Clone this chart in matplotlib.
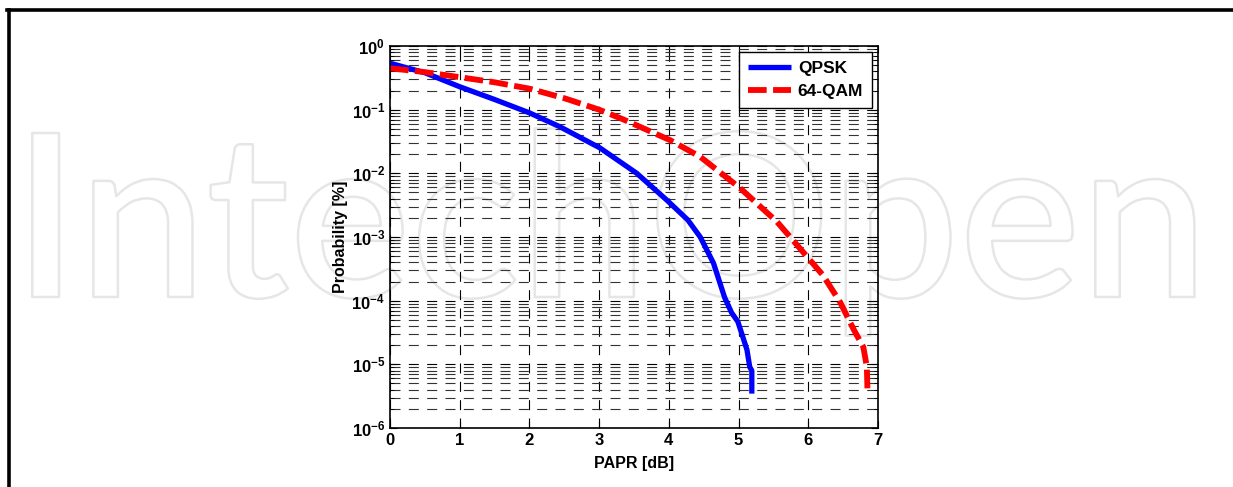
import numpy as np
import matplotlib
matplotlib.use("Agg")
import matplotlib.pyplot as plt
import matplotlib.patheffects as pe
from matplotlib.ticker import LogLocator, NullFormatter

# -----------------------------------
# DATA
# -----------------------------------

qpsk_papr = [0.0, 0.5, 1.0, 1.5, 2.0, 2.44, 3.01, 3.54, 3.97, 4.27, 4.45,
             4.64, 4.80, 4.90, 4.99, 5.12, 5.16, 5.19, 5.19]
qpsk_log = [-0.27, -0.42, -0.64, -0.84, -1.05, -1.27, -1.60, -2.00, -2.42,
            -2.73, -3.00, -3.41, -3.95, -4.19, -4.33, -4.77, -5.04, -5.10, -5.46]

qam_papr = [0.0, 0.5, 1.0, 1.5, 2.0, 2.5, 3.0, 3.34, 4.02, 4.45, 5.02, 5.55,
            5.74, 6.21, 6.46, 6.65, 6.79, 6.84, 6.85]
qam_log = [-0.35, -0.41, -0.49, -0.57, -0.67, -0.82, -1.0, -1.15, -1.48,
           -1.74, -2.23, -2.76, -3.00, -3.60, -4.03, -4.45, -4.73, -5.04, -5.46]

qpsk_prob = 10.0 ** np.array(qpsk_log)
qam_prob = 10.0 ** np.array(qam_log)

x_ticks = [0, 1, 2, 3, 4, 5, 6, 7]

# -----------------------------------
# FIGURE
# -----------------------------------

plt.rcParams["font.family"] = ["Liberation Sans", "DejaVu Sans"]
plt.rcParams["mathtext.fontset"] = "custom"
plt.rcParams["mathtext.rm"] = "Liberation Sans:bold"
plt.rcParams["mathtext.bf"] = "Liberation Sans:bold"
plt.rcParams["mathtext.default"] = "bf"

fig = plt.figure(figsize=(12.33, 4.87), dpi=100)

# watermark (outline only, behind the plot)
fig.text(0.495, 1 - 297 / 487, "IntechOpen", ha="center", va="baseline",
         fontsize=164, color="none", fontweight="semibold",
         family=["Lato", "DejaVu Sans"], zorder=-5,
         path_effects=[pe.Stroke(linewidth=1.8, foreground="#e6e6e6")])

# page border (left and top)
fig.add_artist(plt.Line2D([8.5 / 1233, 8.5 / 1233], [0, 1 - 9.5 / 487],
                          color="black", lw=2.6, transform=fig.transFigure))
fig.add_artist(plt.Line2D([7.2 / 1233, 1], [1 - 9.5 / 487, 1 - 9.5 / 487],
                          color="black", lw=2.6, transform=fig.transFigure))

ax = fig.add_axes([390 / 1233, 1 - 428 / 487, 488 / 1233, 382 / 487])
ax.set_zorder(1)
ax.patch.set_alpha(0)

ax.semilogy(qpsk_papr, qpsk_prob, color="blue", lw=3.8,
            solid_capstyle="butt", label="QPSK")
ax.semilogy(qam_papr, qam_prob, color="red", lw=4.2, ls=(0, (3.2, 1.1)),
            label="64-QAM")

ax.set_xlim(0, 7)
ax.set_ylim(1e-6, 1)
ax.set_xticks(x_ticks)
ax.yaxis.set_major_locator(LogLocator(base=10, numticks=10))
ax.yaxis.set_minor_locator(LogLocator(base=10, subs=np.arange(2, 10),
                                      numticks=20))
ax.yaxis.set_minor_formatter(NullFormatter())

ax.grid(True, which="major", color="black", ls=(0, (9, 7.5)), lw=0.8)
ax.grid(True, which="minor", axis="y", color="#333333", ls=(0, (9, 7.5)),
        lw=0.8)

ax.tick_params(which="both", direction="in", top=True, right=True,
               labelsize=12)
ax.tick_params(which="major", length=5)
ax.tick_params(which="minor", length=3)
for lab in ax.get_xticklabels() + ax.get_yticklabels():
    lab.set_fontweight("bold")
for sp in ax.spines.values():
    sp.set_linewidth(1.2)

ax.set_xlabel("PAPR [dB]", fontsize=11.5, fontweight="bold")
ax.set_ylabel("Probability [%]", fontsize=11.5, fontweight="bold")
ax.xaxis.set_label_coords(0.5, -0.072)
ax.yaxis.set_label_coords(-0.086, 0.5)

leg = ax.legend(loc="upper right", prop={"weight": "bold", "size": 12.5},
                fancybox=False, framealpha=1, edgecolor="black",
                handlelength=2.5, borderaxespad=0.35, borderpad=0.5,
                labelspacing=0.45, handletextpad=0.4)
leg.get_frame().set_linewidth(1.0)

fig.savefig("out.png", dpi=100)
